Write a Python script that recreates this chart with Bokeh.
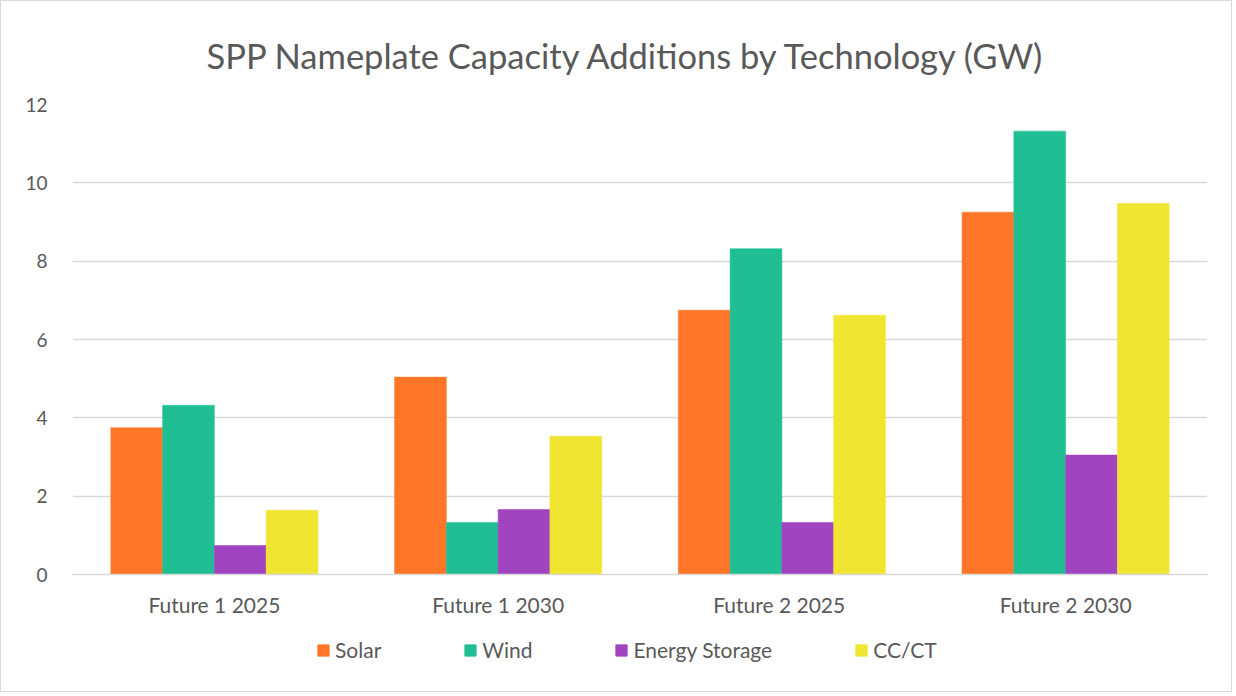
from bokeh.plotting import figure
from bokeh.layouts import column
from bokeh.models import Legend, LegendItem, ColumnDataSource, FixedTicker
from bokeh.transform import dodge
from bokeh.embed import file_html
from bokeh.resources import INLINE

categories = ["Future 1 2025", "Future 1 2030", "Future 2  2025", "Future 2 2030"]
series_names = ["Solar", "Wind", "Energy Storage", "CC/CT"]
solar = [3.75, 5.04, 6.75, 9.25]
wind = [4.32, 1.33, 8.32, 11.32]
storage = [0.74, 1.66, 1.33, 3.05]
cc_ct = [1.64, 3.53, 6.62, 9.47]
y_ticks = [0, 2, 4, 6, 8, 10, 12]

colors = ["#FF7628", "#20BF93", "#A044BF", "#F0E530"]
FONT = "Lato"
TXT = "#595959"

source = ColumnDataSource(dict(cat=categories, solar=solar, wind=wind, storage=storage, cc_ct=cc_ct))

p = figure(x_range=categories, y_range=(0, 12), width=1230, height=625,
           output_backend="svg", toolbar_location=None,
           min_border_left=71, min_border_right=24, min_border_top=103, min_border_bottom=52)

p.title.text = "SPP Nameplate Capacity Additions by Technology (GW)"
p.title.align = "left"
p.title.offset = 134
p.title.text_font = FONT
p.title.text_font_size = "34.5px"
p.title.text_font_style = "normal"
p.title.text_color = TXT
p.title.standoff = 58

bw = 0.1825
offsets = [-1.5 * bw, -0.5 * bw, 0.5 * bw, 1.5 * bw]
fields = ["solar", "wind", "storage", "cc_ct"]
for f, off, c in zip(fields, offsets, colors):
    p.vbar(x=dodge("cat", off, range=p.x_range), top=f, width=bw, source=source,
           fill_color=c, line_color=c, line_width=0.5)

p.outline_line_color = None
p.xgrid.grid_line_color = None
p.ygrid.grid_line_color = "#D9D9D9"
p.ygrid.grid_line_width = 1.3
p.yaxis.ticker = FixedTicker(ticks=y_ticks)
p.yaxis.axis_line_color = None
p.yaxis.major_tick_line_color = None
p.yaxis.minor_tick_line_color = None
p.yaxis.major_label_text_font = FONT
p.yaxis.major_label_text_font_size = "19px"
p.yaxis.major_label_text_color = TXT
p.yaxis.major_label_standoff = 19

p.xaxis.axis_line_color = "#D9D9D9"
p.xaxis.axis_line_width = 1.3
p.xaxis.major_tick_line_color = None
p.xaxis.minor_tick_line_color = None
p.xaxis.major_label_text_font = FONT
p.xaxis.major_label_text_font_size = "21px"
p.xaxis.major_label_text_color = TXT
p.xaxis.major_label_standoff = 11

# Legend strip below the chart
lg = figure(x_range=categories, y_range=(0, 12), width=1230, height=65,
            output_backend="svg", toolbar_location=None,
            x_axis_type=None, y_axis_type=None,
            min_border_left=0, min_border_right=0, min_border_top=0, min_border_bottom=0)
lg.outline_line_color = None
lg.xgrid.grid_line_color = None
lg.ygrid.grid_line_color = None
items = []
for f, n, c in zip(fields, series_names, colors):
    r = lg.vbar(x="cat", top=f, width=bw, source=source, fill_color=c, line_color=c, visible=False)
    items.append(LegendItem(label=n, renderers=[r]))

legend = Legend(items=items, orientation="horizontal", location=(244, 29))
legend.label_text_font = FONT
legend.label_text_font_size = "21px"
legend.label_text_color = TXT
legend.glyph_width = 14
legend.glyph_height = 14
legend.label_standoff = 5
legend.spacing = 82
legend.border_line_color = None
legend.background_fill_alpha = 0
legend.inactive_fill_alpha = 0
legend.padding = 0
legend.margin = 0
legend.click_policy = "none"
lg.add_layout(legend, "center")

layout = column(p, lg, spacing=0)
layout.styles = {"border": "1px solid #D9D9D9"}

open("out.html", "w").write(file_html(layout, INLINE))
